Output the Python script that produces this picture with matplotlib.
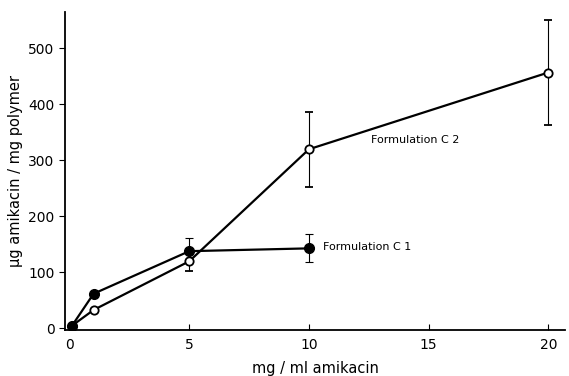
import matplotlib.pyplot as plt

# dose of amikacin (mg/ml)
c1_x = [0.1, 1, 5, 10]
c1_y = [5, 62, 138, 143]
c1_err_lo = [0, 0, 0, 24]
c1_err_hi = [0, 0, 23, 25]

c2_x = [0.1, 1, 5, 10, 20]
c2_y = [5, 33, 120, 320, 457]
c2_err_lo = [0, 0, 17, 68, 94]
c2_err_hi = [0, 0, 0, 66, 94]

plt.rcParams['font.family'] = ['DejaVu Sans']

fig = plt.figure(figsize=(5.69, 3.76), dpi=100)
ax = fig.add_axes([0.114, 0.122, 0.879, 0.846])

ax.errorbar(c2_x, c2_y, yerr=[c2_err_lo, c2_err_hi], color='black', lw=1.6,
            marker='o', ms=6, mfc='white', mec='black', mew=1.3,
            ecolor='black', elinewidth=0.8, capsize=3, capthick=0.8, zorder=3)
ax.errorbar(c1_x, c1_y, yerr=[c1_err_lo, c1_err_hi], color='black', lw=1.6,
            marker='o', ms=7, mfc='black', mec='black',
            ecolor='black', elinewidth=0.8, capsize=3, capthick=0.8, zorder=4)

ax.text(12.6, 337, 'Formulation C 2', fontsize=8, va='center')
ax.text(10.6, 145, 'Formulation C 1', fontsize=8, va='center')

ax.set_xlim(-0.2, 20.7)
ax.set_ylim(-3, 565)
ax.set_xticks([0, 5, 10, 15, 20])
ax.set_yticks([0, 100, 200, 300, 400, 500])
ax.tick_params(axis='x', direction='in', length=4, labelsize=10, pad=6)
ax.tick_params(axis='y', direction='out', length=4, labelsize=10)

ax.spines['top'].set_visible(False)
ax.spines['right'].set_visible(False)
ax.spines['left'].set_linewidth(1.3)
ax.spines['bottom'].set_linewidth(1.3)

ax.set_xlabel('mg / ml amikacin', fontsize=10.5, labelpad=6)
ax.set_ylabel('\u03bcg amikacin / mg polymer', fontsize=10.5, labelpad=4)

fig.savefig('out.png', dpi=100)
